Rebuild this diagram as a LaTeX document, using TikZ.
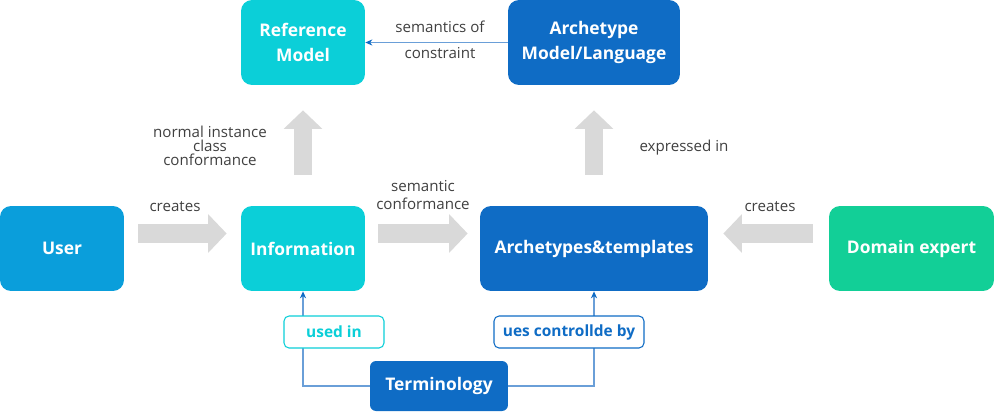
\documentclass[tikz,border=0pt]{standalone}
\usepackage{fontspec}
\setmainfont{Open Sans}
\usetikzlibrary{arrows.meta,positioning}

\definecolor{cyanbox}{HTML}{0BCFD8}
\definecolor{bluebox}{HTML}{0F6CC5}
\definecolor{userbox}{HTML}{0A9EDB}
\definecolor{greenbox}{HTML}{12CF97}
\definecolor{fatgray}{HTML}{D9D9D9}
\definecolor{labelgray}{HTML}{404040}
\definecolor{thinblue}{HTML}{6A9FD8}

\tikzset{
  block/.style={rounded corners=0.22cm, text=white, font=\bfseries\fontsize{9.9}{12}\selectfont,
    align=center, inner sep=0pt, minimum height=1.7cm},
  tag/.style={rounded corners=0.1cm, fill=white, line width=0.6pt, font=\bfseries\fontsize{8.8}{10}\selectfont,
    inner sep=0pt, minimum height=0.64cm},
  fatarrow/.style={draw=fatgray, line width=0.37cm, -{Triangle[length=0.37cm,width=0.75cm]}},
  thinarrow/.style={draw=thinblue, line width=0.6pt, -{Stealth[length=4pt,width=3.5pt,color=bluebox]}},
  note/.style={text=labelgray, font=\fontsize{8.6}{9.6}\selectfont, align=center, inner sep=0pt}
}

\begin{document}
\begin{tikzpicture}[x=0.02cm, y=-0.02cm]
  \useasboundingbox (0,0) rectangle (994,413);

  % Main row of boxes
  \node[block, fill=userbox, minimum width=2.48cm] (user) at (62,248.5) {User};
  \node[block, fill=cyanbox, minimum width=2.48cm] (info) at (303,248.5) {Information};
  \node[block, fill=bluebox, minimum width=4.56cm] (arch) at (594,248.5) {Archetypes\&templates};
  \node[block, fill=greenbox, minimum width=3.3cm] (expert) at (911.5,248.5) {Domain expert};

  % Top row of boxes
  \node[block, fill=cyanbox, minimum width=2.48cm] (refmodel) at (303,42.5) {Reference\\[2pt]Model};
  \node[block, fill=bluebox, minimum width=3.44cm] (archmodel) at (594,42.5) {Archetype\\[2pt]Model/Language};

  % Terminology box
  \node[block, fill=bluebox, minimum width=2.76cm, minimum height=1.0cm, rounded corners=0.12cm] (term) at (439,386) {Terminology};

  % Wide grey arrows
  \draw[fatarrow, shorten <=0.28cm, shorten >=0.28cm] ([yshift=0.3cm]user.east) -- ([yshift=0.3cm]info.west);
  \draw[fatarrow, shorten <=0.26cm, shorten >=0.24cm] ([yshift=0.3cm]info.east) -- ([yshift=0.3cm]arch.west);
  \draw[fatarrow, shorten <=0.32cm, shorten >=0.3cm] ([yshift=0.3cm]expert.west) -- ([yshift=0.3cm]arch.east);
  \draw[fatarrow, shorten <=0.62cm, shorten >=0.5cm] (info.north) -- (refmodel.south);
  \draw[fatarrow, shorten <=0.62cm, shorten >=0.5cm] (arch.north) -- (archmodel.south);

  % Thin connectors
  \draw[thinarrow] (archmodel.west) -- (refmodel.east);
  \draw[thinarrow] (term.west) -| (info.south);
  \draw[thinarrow] (term.east) -| (arch.south);

  % Tags sitting on the connectors
  \node[tag, draw=cyanbox, text=cyanbox, minimum width=2.0cm] (usedin) at (334,332) {used in};
  \node[tag, draw=bluebox, text=bluebox, minimum width=3.0cm] (ctrlby) at (569,332) {ues controllde by};

  % Labels
  \node[note] (lblcreates) at (175,207) {creates};
  \node[note] (lblcreatesb) at (770,207) {creates};
  \node[note] (lblnormal) at (210,146) {normal instance\\[-1.5pt]class\\[-1.5pt]conformance};
  \node[note] (lblsemantic) at (423,195) {semantic\\[1pt]conformance};
  \node[note] (lblexpressed) at (684,148) {expressed in};
  \node[note] (lblsemof) at (440,40) {semantics of\\[5pt]constraint};
\end{tikzpicture}
\end{document}
